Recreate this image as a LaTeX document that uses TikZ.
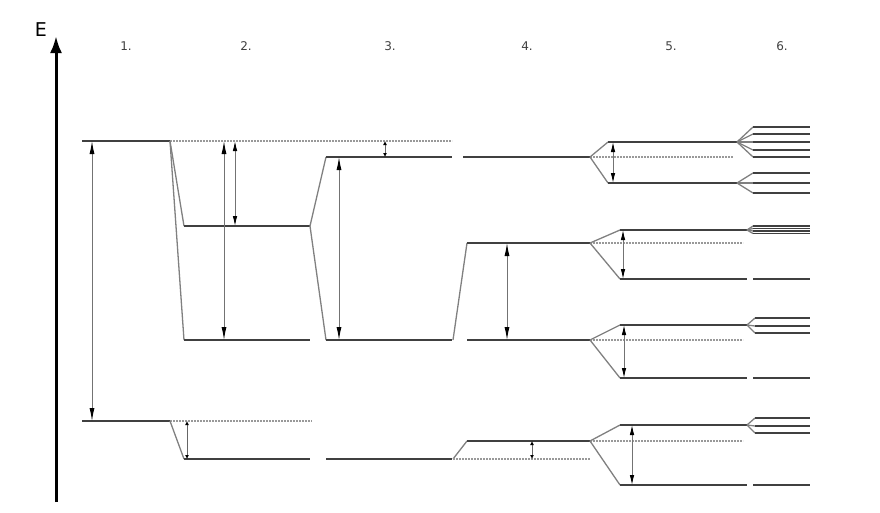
\documentclass[tikz,border=0pt]{standalone}
\usepackage{fontspec}
\setmainfont{DejaVu Sans}
\usetikzlibrary{arrows.meta}

\begin{document}
\begin{tikzpicture}[x=1pt, y=-1pt, line join=round,
  lvl/.style={draw=black!75, line width=2.6pt},
  slant/.style={draw=black!50, line width=1.3pt},
  refline/.style={draw=black!40, line width=1.1pt, dash pattern=on 1.6pt off 1.4pt},
  bigarr/.style={draw=black!55, line width=0.9pt,
    {Latex[length=13pt,width=5pt,color=black]}-{Latex[length=13pt,width=5pt,color=black]}},
  midarr/.style={draw=black!55, line width=0.9pt,
    {Latex[length=10pt,width=4.5pt,color=black]}-{Latex[length=10pt,width=4.5pt,color=black]}},
  tinyarr/.style={draw=black!60, line width=0.9pt,
    {Latex[length=4pt,width=4pt,color=black]}-{Latex[length=4pt,width=4pt,color=black]}},
  collabel/.style={font=\fontsize{12}{14}\selectfont, text=black!75}]

\useasboundingbox (0,0) rectangle (880,512);

%-----------------------
% Achse E und Spaltennummern
%-----------------------
\coordinate (Ebot) at (56,502);
\coordinate (Etop) at (56,36);
\draw[line width=3pt, -{Latex[length=17pt,width=12pt]}] (Ebot) -- (Etop);
\node[font=\fontsize{19}{21}\selectfont] (E) at (41,30) {E};

\foreach \n/\x in {1/126,2/246,3/390,4/527,5/671,6/782}
  \node[collabel] (col\n) at (\x,46) {\n.};

%-----------------------
% 1.: zwei Ausgangsniveaus
%-----------------------
\coordinate (up1a) at (82,141);  \coordinate (up1b) at (170,141);
\coordinate (lo1a) at (82,421);  \coordinate (lo1b) at (170,421);
\draw[lvl] (up1a) -- (up1b);
\draw[lvl] (lo1a) -- (lo1b);
\coordinate (g1t) at (92,141);   \coordinate (g1b) at (92,421);
\draw[bigarr] (g1t) -- (g1b);   % Abstand oben/unten

%-----------------------
% 2.: Absenkung, Aufspaltung oben
%-----------------------
\coordinate (ref2) at (452,141);
\draw[refline] (up1b) -- (ref2);
\coordinate (mid2a) at (184,226); \coordinate (mid2b) at (310,226);
\coordinate (bot2a) at (184,340); \coordinate (bot2b) at (310,340);
\draw[slant] (up1b) -- (mid2a);
\draw[slant] (up1b) -- (bot2a);
\draw[lvl] (mid2a) -- (mid2b);
\draw[lvl] (bot2a) -- (bot2b);
\coordinate (g2at) at (224,141); \coordinate (g2ab) at (224,340);
\coordinate (g2bt) at (235,141); \coordinate (g2bb) at (235,226);
\draw[bigarr] (g2at) -- (g2ab);
\draw[midarr] (g2bt) -- (g2bb);

\coordinate (ref2l) at (312,421);
\draw[refline] (lo1b) -- (ref2l);
\coordinate (lo2a) at (184,459); \coordinate (lo2b) at (310,459);
\draw[slant] (lo1b) -- (lo2a);
\draw[lvl] (lo2a) -- (lo2b);
\coordinate (g2ct) at (187,421); \coordinate (g2cb) at (187,459);
\draw[tinyarr] (g2ct) -- (g2cb);

%-----------------------
% 3.: weitere Aufspaltung von (mid2)
%-----------------------
\coordinate (up3a) at (326,157);  \coordinate (up3b) at (452,157);
\coordinate (bot3a) at (326,340); \coordinate (bot3b) at (452,340);
\coordinate (lo3a) at (326,459);  \coordinate (lo3b) at (452,459);
\draw[slant] (mid2b) -- (up3a);
\draw[slant] (mid2b) -- (bot3a);
\draw[lvl] (up3a) -- (up3b);
\draw[lvl] (bot3a) -- (bot3b);
\draw[lvl] (lo3a) -- (lo3b);
\coordinate (g3at) at (339,157); \coordinate (g3ab) at (339,340);
\coordinate (g3bt) at (385,141); \coordinate (g3bb) at (385,157);
\draw[bigarr] (g3at) -- (g3ab);
\draw[tinyarr] (g3bt) -- (g3bb);

%-----------------------
% 4.: Verschiebung der unteren Niveaus
%-----------------------
\coordinate (up4a) at (463,157);  \coordinate (up4b) at (590,157);
\coordinate (mid4a) at (467,243); \coordinate (mid4b) at (590,243);
\coordinate (bot4a) at (467,340); \coordinate (bot4b) at (590,340);
\coordinate (lo4a) at (467,441);  \coordinate (lo4b) at (590,441);
\coordinate (s4a) at (453,340);   \coordinate (s4b) at (453,459);
\coordinate (ref4) at (590,459);
\draw[lvl] (up4a) -- (up4b);
\draw[slant] (s4a) -- (mid4a);
\draw[lvl] (mid4a) -- (mid4b);
\draw[lvl] (bot4a) -- (bot4b);
\draw[slant] (s4b) -- (lo4a);
\draw[lvl] (lo4a) -- (lo4b);
\draw[refline] (s4b) -- (ref4);
\coordinate (g4at) at (507,243); \coordinate (g4ab) at (507,340);
\coordinate (g4bt) at (532,441); \coordinate (g4bb) at (532,459);
\draw[bigarr] (g4at) -- (g4ab);
\draw[tinyarr] (g4bt) -- (g4bb);

%-----------------------
% 5.: Aufspaltung jedes Niveaus in zwei
%-----------------------
% Name/Start/oben/unten/x-links/x-rechts/Pfeil-x
\foreach \g/\s/\yt/\yb/\xl/\xr/\xa in
    {A/up4b/142/183/608/737/613, B/mid4b/230/279/620/747/623,
     C/bot4b/325/378/620/747/624, D/lo4b/425/485/620/747/632}{
  \coordinate (\g t1) at (\xl,\yt);  \coordinate (\g t2) at (\xr,\yt);
  \coordinate (\g b1) at (\xl,\yb);  \coordinate (\g b2) at (\xr,\yb);
  \coordinate (\g ref) at (\xr-4,0 |- \s);
  \draw[refline] (\s) -- (\g ref);
  \draw[slant] (\s) -- (\g t1);
  \draw[slant] (\s) -- (\g b1);
  \draw[lvl] (\g t1) -- (\g t2);
  \draw[lvl] (\g b1) -- (\g b2);
  \coordinate (\g at) at (\xa,\yt); \coordinate (\g ab) at (\xa,\yb);
  \draw[midarr] (\g at) -- (\g ab);
}

%-----------------------
% 6.: Feinstruktur
%-----------------------
\foreach \dy in {-15,-8,0,8,15}{
  \draw[slant] (At2) -- ++(16,\dy) coordinate (f);
  \draw[lvl] (f) -- ++(57,0);
}
\foreach \dy in {-10,0,10}{
  \draw[slant] (Ab2) -- ++(16,\dy) coordinate (f);
  \draw[lvl] (f) -- ++(57,0);
}
\foreach \dy in {-4,-1.5,1,3.5}{
  \draw[slant] (Bt2) -- ++(6,\dy) coordinate (f);
  \draw[lvl, line width=1.5pt] (f) -- ++(57,0);
}
\foreach \g in {C,D}{
  \foreach \dy in {-7,1,8}{
    \draw[slant] (\g t2) -- ++(8,\dy) coordinate (f);
    \draw[lvl] (f) -- ++(55,0);
  }
}
\foreach \g in {B,C,D}{
  \coordinate (\g e1) at ([xshift=6pt]\g b2);
  \coordinate (\g e2) at ([xshift=63pt]\g b2);
  \draw[lvl] (\g e1) -- (\g e2);
}

\end{tikzpicture}
\end{document}
